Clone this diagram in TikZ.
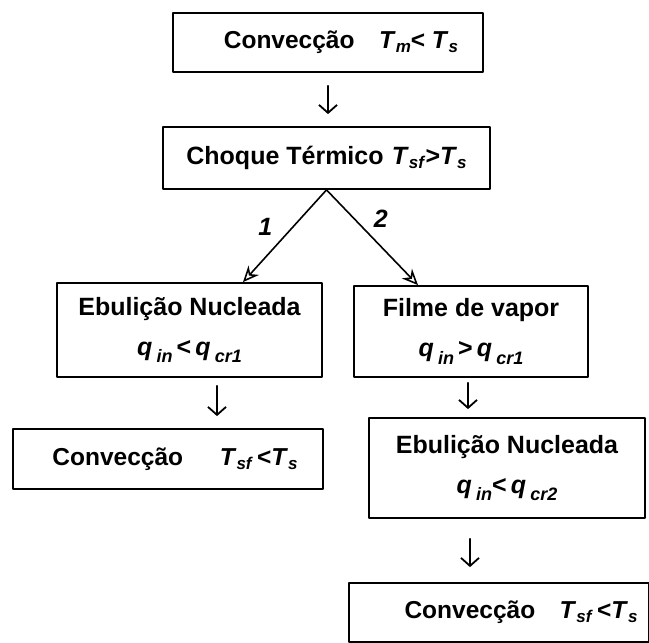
\documentclass[tikz,border=0pt]{standalone}
\usepackage{fontspec}
\setmainfont{Liberation Sans}
\usetikzlibrary{arrows.meta}
\newcommand{\sbs}[1]{\raisebox{-0.3ex}{\fontsize{17}{17}\selectfont\textit{#1}}}
\newcommand{\qsb}[1]{\textit{q}\,\raisebox{-0.3em}{\fontsize{18}{18}\selectfont\textit{#1}}}

\begin{document}
\begin{tikzpicture}[line cap=round,line join=round,x=1pt,y=-1pt,
  box/.style={draw,line width=1.8pt,inner sep=0pt,align=center,font=\bfseries\fontsize{25}{40}\selectfont},
  convbox/.style={box,font=\bfseries\fontsize{24.5}{29}\selectfont},
  downarrow/.style={-{Straight Barb[length=8pt,width=18pt]},line width=1.8pt},
  splitarrow/.style={-{Stealth[open,length=16pt,width=14pt]},line width=1.6pt},
  branch/.style={inner sep=0pt,font=\bfseries\itshape\fontsize{25}{30}\selectfont}]
\clip (0,0) rectangle (649,643);
\node[convbox,minimum width=310pt,minimum height=59pt] (conv1) at (328,42.5) {\hspace*{26pt}Convecção\quad\textit{T}\sbs{m}< \textit{T}\sbs{s}};
\node[box,minimum width=327pt,minimum height=62pt] (choque) at (326.5,158) {Choque Térmico\,\,\textit{T}\sbs{sf}>\textit{T}\sbs{s}};
\node[box,minimum width=265pt,minimum height=94pt] (ebul1) at (189.5,330) {Ebulição Nucleada\\\qsb{in}\,<\,\qsb{cr1}};
\node[box,minimum width=234pt,minimum height=91pt] (filme) at (471,331.5) {Filme de vapor\\\qsb{in}\,>\,\qsb{cr1}};
\node[convbox,minimum width=310pt,minimum height=60pt] (conv2) at (168,459) {\hspace*{14pt}Convecção\quad\enspace\textit{T}\sbs{sf}\,<\textit{T}\sbs{s}};
\node[box,minimum width=276pt,minimum height=100pt] (ebul2) at (507,468) {Ebulição Nucleada\\\qsb{in}<\,\qsb{cr2}};
\node[convbox,minimum width=300pt,minimum height=59pt] (conv3) at (499,612.5) {\hspace*{44pt}Convecção\quad\textit{T}\sbs{sf}\,<\textit{T}\sbs{s}};
\draw[downarrow,shorten <=13pt,shorten >=12pt] (conv1.south) -- (conv1.south |- choque.north);
\draw[splitarrow] (choque.south) -- ([xshift=53.5pt]ebul1.north) node[branch,pos=0.4,left=20pt] {1};
\draw[splitarrow] (choque.south) -- ([xshift=-53pt]filme.north) node[branch,pos=0.3,right=19pt] {2};
\draw[downarrow,shorten <=8pt,shorten >=12pt] ([xshift=27.5pt]ebul1.south) -- ([xshift=27.5pt]ebul1.south |- conv2.north);
\draw[downarrow,shorten <=5pt,shorten >=8pt] ([xshift=-3pt]filme.south) -- ([xshift=-3pt]filme.south |- ebul2.north);
\draw[downarrow,shorten <=20pt,shorten >=15pt] ([xshift=-37pt]ebul2.south) -- ([xshift=-37pt]ebul2.south |- conv3.north);
\end{tikzpicture}
\end{document}
